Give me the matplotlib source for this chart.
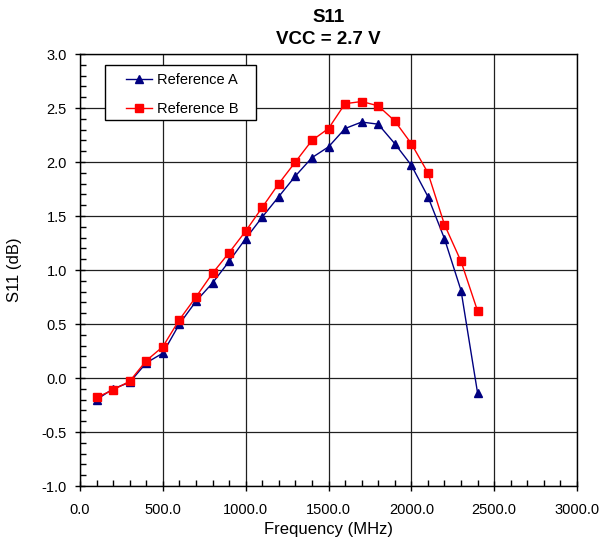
import matplotlib
matplotlib.use("Agg")
import matplotlib.pyplot as plt
from matplotlib.ticker import MultipleLocator, FormatStrFormatter
from matplotlib.patches import Rectangle

plt.rcParams['font.family'] = ['Liberation Sans', 'DejaVu Sans']

freq = [100, 200, 300, 400, 500, 600, 700, 800, 900, 1000, 1100, 1200,
        1300, 1400, 1500, 1600, 1700, 1800, 1900, 2000, 2100, 2200, 2300, 2400]
ref_a = [-0.20, -0.10, -0.04, 0.14, 0.23, 0.50, 0.71, 0.88, 1.08, 1.29, 1.49, 1.68,
         1.87, 2.04, 2.14, 2.31, 2.37, 2.35, 2.17, 1.97, 1.68, 1.29, 0.81, -0.14]
ref_b = [-0.18, -0.11, -0.03, 0.16, 0.29, 0.54, 0.75, 0.97, 1.16, 1.36, 1.58, 1.80,
         2.00, 2.20, 2.31, 2.54, 2.56, 2.52, 2.38, 2.17, 1.90, 1.42, 1.08, 0.62]

W, H = 613, 544
fig = plt.figure(figsize=(W/100, H/100), dpi=100)
ax = fig.add_axes([80/W, 1-486/H, 497/W, 432/H])

ax.plot(freq, ref_a, color='#000080', lw=1.0, marker='^', ms=6, label='Reference A', zorder=3)
ax.plot(freq, ref_b, color='#ff0000', lw=1.0, marker='s', ms=6, label='Reference B', zorder=4)

ax.set_xlim(0, 3000)
ax.set_ylim(-1.0, 3.0)
ax.xaxis.set_major_locator(MultipleLocator(500))
ax.xaxis.set_minor_locator(MultipleLocator(100))
ax.yaxis.set_major_locator(MultipleLocator(0.5))
ax.yaxis.set_minor_locator(MultipleLocator(0.1))
ax.xaxis.set_major_formatter(FormatStrFormatter('%.1f'))
ax.yaxis.set_major_formatter(FormatStrFormatter('%.1f'))
ax.tick_params(which='major', direction='inout', length=7, width=1, labelsize=10.5)
ax.tick_params(axis='x', which='major', pad=9)
ax.tick_params(axis='y', which='major', pad=6)
ax.tick_params(which='minor', direction='in', length=4, width=1)
ax.grid(True, which='major', color='#202020', lw=0.9)
for s in ax.spines.values():
    s.set_color('black')
    s.set_linewidth(1.0)

ax.set_xlabel('Frequency (MHz)', fontsize=12, labelpad=3)
ax.set_ylabel('S11 (dB)', fontsize=12, labelpad=14)
ax.set_title('S11\nVCC = 2.7 V', fontsize=13.5, fontweight='bold', pad=7, linespacing=1.4)

# legend frame (pixel box 105..256 x 65..120)
x0, x1, y0, y1 = 105, 256, 65, 120
rect = Rectangle(((x0-80)/497, (486-y1)/432), (x1-x0)/497, (y1-y0)/432,
                 transform=ax.transAxes, facecolor='white', edgecolor='black',
                 lw=1.0, zorder=5)
ax.add_patch(rect)
leg = ax.legend(loc='upper left', bbox_to_anchor=((126-80)/497, (486-73)/432),
                fontsize=10.5, frameon=False, borderpad=0, borderaxespad=0,
                labelspacing=1.05, handlelength=1.8, handletextpad=0.3)
leg.set_zorder(6)

fig.savefig('out.png', dpi=100)
